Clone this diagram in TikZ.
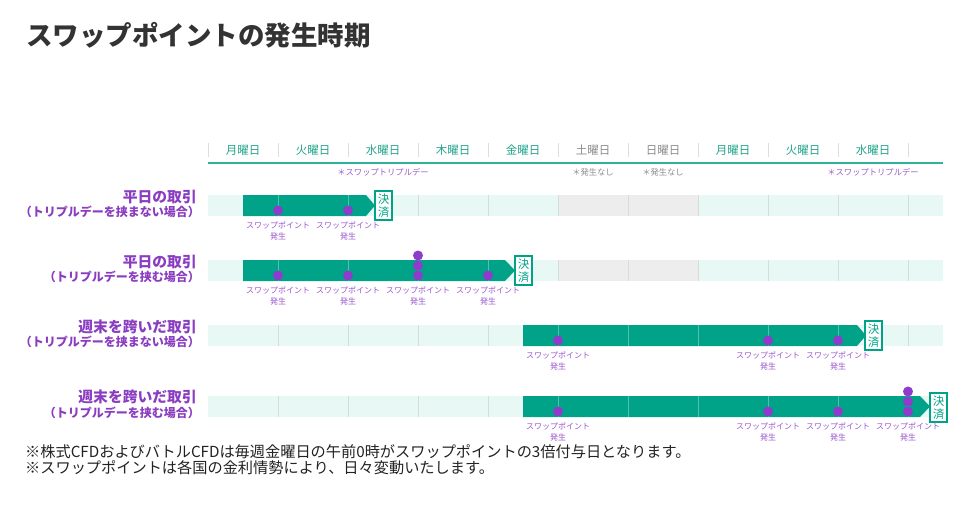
\documentclass[tikz,border=0pt]{standalone}
\usepackage{fontspec}
\setmainfont{Noto Sans CJK JP}
\usetikzlibrary{positioning}

\definecolor{titlegray}{HTML}{333333}
\definecolor{dayteal}{HTML}{23A38C}
\definecolor{daygray}{HTML}{8C8C8C}
\definecolor{headline}{HTML}{2DB39C}
\definecolor{hsepgray}{HTML}{DDDDDD}
\definecolor{notepurple}{HTML}{9A5CCC}
\definecolor{rowpurple}{HTML}{8A3DC0}
\definecolor{bandteal}{HTML}{E8F8F4}
\definecolor{bandgray}{HTML}{EDEDED}
\definecolor{sepgray}{HTML}{D3DDDA}
\definecolor{barteal}{HTML}{00A388}
\definecolor{barline}{HTML}{52C2AD}
\definecolor{dotpurple}{HTML}{8E3CCB}
\definecolor{swappurple}{HTML}{9A55CC}
\definecolor{footblack}{HTML}{222222}

\begin{document}
\begin{tikzpicture}[x=1pt, y=-1pt,
    day/.style={font=\fontsize{11.5}{13}\selectfont},
    note/.style={font=\fontsize{8.3}{10}\selectfont},
    rowmain/.style={anchor=east, inner sep=0pt, text=rowpurple, font=\fontsize{14.8}{16}\selectfont\bfseries},
    rowsub/.style={anchor=east, inner sep=0pt, text=rowpurple, font=\fontsize{12}{13}\selectfont\bfseries},
    band/.style={fill=bandteal},
    weekend/.style={fill=bandgray},
    bsep/.style={draw=sepgray, line width=0.8pt},
    bar/.style={fill=barteal},
    barsep/.style={draw=barline, line width=0.8pt},
    dot/.style={circle, fill=dotpurple, inner sep=0pt, minimum size=10pt},
    swap/.style={align=center, inner sep=0pt, text=swappurple, font=\fontsize{8}{11}\selectfont},
    settle/.style={draw=barteal, fill=white, text=barteal, line width=1.1pt, minimum width=17pt, minimum height=29pt, inner sep=0pt, align=center, font=\fontsize{11.5}{13}\selectfont},
    foot/.style={anchor=west, inner sep=0pt, text=footblack, font=\fontsize{15.2}{18}\selectfont}
    ]
    \useasboundingbox (0,0) rectangle (980,515);

    % Title
    \node[anchor=west, inner sep=0pt, text=titlegray, font=\fontsize{26.5}{30}\selectfont\bfseries] (title) at (26,35) {スワップポイントの発生時期};

    % Day header
    \foreach \d/\c [count=\i from 0] in {月/dayteal, 火/dayteal, 水/dayteal, 木/dayteal, 金/dayteal, 土/daygray, 日/daygray, 月/dayteal, 火/dayteal, 水/dayteal}
        \node[day, text=\c] (day\i) at ({243+70*\i},150) {\d 曜日};
    \foreach \x in {208,278,...,908}
        \draw[hsepgray, line width=0.8pt] (\x,143) -- (\x,157);
    \draw[headline, line width=1.2pt] (208,163) -- (943,163);

    % Notes under the header
    \node[note, text=notepurple] (note1) at (383,172) {＊スワップトリプルデー};
    \node[note, text=daygray] (note2) at (593,172) {＊発生なし};
    \node[note, text=daygray] (note3) at (663,172) {＊発生なし};
    \node[note, text=notepurple] (note4) at (873,172) {＊スワップトリプルデー};

    % Row 1
    \node[rowmain] (row1) at (197,197) {平日の取引};
    \node[rowsub] (row1sub) at (200,212) {（トリプルデーを挟まない場合）};
    \fill[band] (208,195) rectangle (943,216);
    \fill[weekend] (558,195) rectangle (698,216);
    \foreach \x in {278,348,...,908} \draw[bsep] (\x,195) -- (\x,216);
    \fill[bar] (243,195) -- (366,195) -- (375,205.5) -- (366,216) -- (243,216) -- cycle;
    \foreach \x in {278,348} \draw[barsep] (\x,195) -- (\x,216);
    \node[dot] (d11) at (278,210.5) {};
    \node[dot] (d12) at (348,210.5) {};
    \node[swap, below=5.5pt of d11] (l11) {スワップポイント\\発生};
    \node[swap, below=5.5pt of d12] (l12) {スワップポイント\\発生};
    \node[settle] (s1) at (383.5,205.5) {決\\済};

    % Row 2
    \node[rowmain] (row2) at (197,262) {平日の取引};
    \node[rowsub] (row2sub) at (200,277) {（トリプルデーを挟む場合）};
    \fill[band] (208,260) rectangle (943,281);
    \fill[weekend] (558,260) rectangle (698,281);
    \foreach \x in {278,348,...,908} \draw[bsep] (\x,260) -- (\x,281);
    \fill[bar] (243,260) -- (505,260) -- (515,270.5) -- (505,281) -- (243,281) -- cycle;
    \foreach \x in {278,348,418,488} \draw[barsep] (\x,260) -- (\x,281);
    \node[dot] (d21) at (278,275.5) {};
    \node[dot] (d22) at (348,275.5) {};
    \node[dot] (d23c) at (418,255.5) {};
    \node[dot] (d23b) at (418,265.5) {};
    \node[dot] (d23) at (418,275.5) {};
    \node[dot] (d24) at (488,275.5) {};
    \node[swap, below=5.5pt of d21] (l21) {スワップポイント\\発生};
    \node[swap, below=5.5pt of d22] (l22) {スワップポイント\\発生};
    \node[swap, below=5.5pt of d23] (l23) {スワップポイント\\発生};
    \node[swap, below=5.5pt of d24] (l24) {スワップポイント\\発生};
    \node[settle] (s2) at (523.5,270.5) {決\\済};

    % Row 3
    \node[rowmain] (row3) at (197,327) {週末を跨いだ取引};
    \node[rowsub] (row3sub) at (200,342) {（トリプルデーを挟まない場合）};
    \fill[band] (208,325) rectangle (943,346);
    \foreach \x in {278,348,...,908} \draw[bsep] (\x,325) -- (\x,346);
    \fill[bar] (523,325) -- (857,325) -- (866,335.5) -- (857,346) -- (523,346) -- cycle;
    \foreach \x in {558,628,...,838} \draw[barsep] (\x,325) -- (\x,346);
    \node[dot] (d31) at (558,340.5) {};
    \node[dot] (d32) at (768,340.5) {};
    \node[dot] (d33) at (838,340.5) {};
    \node[swap, below=5.5pt of d31] (l31) {スワップポイント\\発生};
    \node[swap, below=5.5pt of d32] (l32) {スワップポイント\\発生};
    \node[swap, below=5.5pt of d33] (l33) {スワップポイント\\発生};
    \node[settle] (s3) at (873.5,335.5) {決\\済};

    % Row 4
    \node[rowmain] (row4) at (197,397) {週末を跨いだ取引};
    \node[rowsub] (row4sub) at (200,413) {（トリプルデーを挟む場合）};
    \fill[band] (208,396) rectangle (943,417);
    \foreach \x in {278,348,...,908} \draw[bsep] (\x,396) -- (\x,417);
    \fill[bar] (523,396) -- (920,396) -- (930,406.5) -- (920,417) -- (523,417) -- cycle;
    \foreach \x in {558,628,...,908} \draw[barsep] (\x,396) -- (\x,417);
    \node[dot] (d41) at (558,411.5) {};
    \node[dot] (d42) at (768,411.5) {};
    \node[dot] (d43) at (838,411.5) {};
    \node[dot] (d44c) at (908,391.5) {};
    \node[dot] (d44b) at (908,401.5) {};
    \node[dot] (d44) at (908,411.5) {};
    \node[swap, below=5.5pt of d41] (l41) {スワップポイント\\発生};
    \node[swap, below=5.5pt of d42] (l42) {スワップポイント\\発生};
    \node[swap, below=5.5pt of d43] (l43) {スワップポイント\\発生};
    \node[swap, below=5.5pt of d44] (l44) {スワップポイント\\発生};
    \node[settle] (s4) at (938.5,407.5) {決\\済};

    % Footnotes
    \node[foot] (foot1) at (25,452) {※株式CFDおよびバトルCFDは毎週金曜日の午前0時がスワップポイントの3倍付与日となります。};
    \node[foot] (foot2) at (25,468) {※スワップポイントは各国の金利情勢により、日々変動いたします。};
\end{tikzpicture}
\end{document}
